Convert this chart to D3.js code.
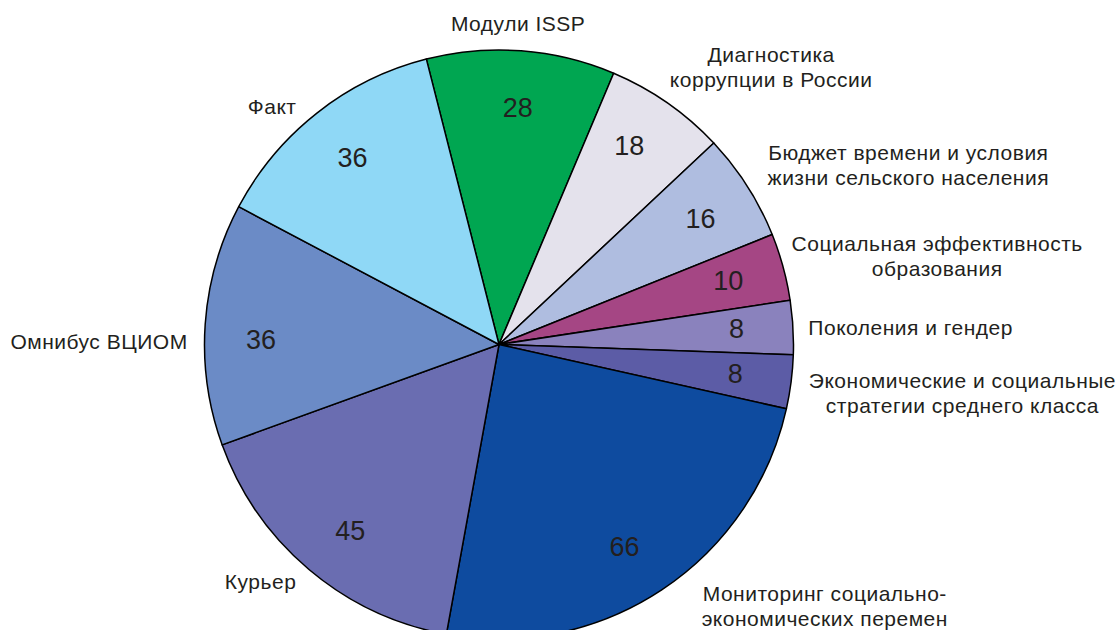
<!DOCTYPE html>
<html>
<head>
<meta charset="utf-8">
<script src="https://cdnjs.cloudflare.com/ajax/libs/d3/7.8.5/d3.min.js"></script>
<style>
  body { margin: 0; background: #fff; }
  text { font-family: "Liberation Sans", Arial, sans-serif; fill: #231f20; }
</style>
</head>
<body>
<div id="chart"></div>
<script>
// data, clockwise from the top
var names = [
  ["Модули ISSP"],
  ["Диагностика", "коррупции в России"],
  ["Бюджет времени и условия", "жизни сельского населения"],
  ["Социальная эффективность", "образования"],
  ["Поколения и гендер"],
  ["Экономические и социальные", "стратегии среднего класса"],
  ["Мониторинг социально-", "экономических перемен"],
  ["Курьер"],
  ["Омнибус ВЦИОМ"],
  ["Факт"]
];
var values = [28, 18, 16, 10, 8, 8, 66, 45, 36, 36];
var colors = ["#00a651", "#e4e2ec", "#afbde0", "#a54684", "#8a82bd",
  "#5c5ca6", "#0e4b9f", "#6a6db1", "#6b8bc6", "#8fd8f6"];

// where the outside names sit: angle (deg, clockwise from top) and radius
var labelAngle = [3.4, 44.4, 66.3, 78.6, 87.6, 96.0, 128.8, 225.2, 270.4, 316.4];
var labelRadius = [322, 389, 447, 447, 412, 466, 418, 336, 400, 329];
// small nudges (deg) of the numbers off the slice middle
var numberShift = [0.2, -1.7, 0.4, -0.4, -0.7, -0.4, 1.7, -1.5, -2.7, 0.2];

var svgWidth = 1118;
var svgHeight = 630;
var cx = 499, cy = 344.5;
var radius = 294.5;
var numberRadius = 238;
var lineHeight = 25;

var svg = d3.select("#chart")
  .append("svg")
  .attr("width", svgWidth)
  .attr("height", svgHeight);

var chartGroup = svg.append("g")
  .attr("transform", `translate(${cx}, ${cy})`);

var rad = Math.PI / 180;

var pie = d3.pie()
  .sort(null)
  .value(d => d)
  .startAngle(-14.28 * rad)
  .endAngle(-14.28 * rad + 2 * Math.PI);

var arcs = pie(values);

var arc = d3.arc()
  .innerRadius(0)
  .outerRadius(radius);

chartGroup.selectAll("path")
  .data(arcs)
  .enter()
  .append("path")
  .attr("d", arc)
  .attr("fill", (d, i) => colors[i])
  .attr("stroke", "#000")
  .attr("stroke-width", 1.5)
  .attr("stroke-linejoin", "round");

// values inside slices
chartGroup.selectAll(".num")
  .data(arcs)
  .enter()
  .append("text")
  .attr("class", "num")
  .attr("transform", function(d, i) {
    var a = (d.startAngle + d.endAngle) / 2 + numberShift[i] * rad;
    return `translate(${Math.sin(a) * numberRadius}, ${-Math.cos(a) * numberRadius})`;
  })
  .attr("text-anchor", "middle")
  .attr("dy", "0.36em")
  .style("font-size", "27px")
  .text(d => d.data);

// names outside
var labels = chartGroup.selectAll(".name")
  .data(names)
  .enter()
  .append("text")
  .attr("class", "name")
  .attr("text-anchor", "middle")
  .style("font-size", "21px")
  .style("letter-spacing", "0.5px")
  .attr("transform", function(d, i) {
    var a = labelAngle[i] * rad;
    var x = Math.sin(a) * labelRadius[i];
    var y = -Math.cos(a) * labelRadius[i];
    return `translate(${x}, ${y})`;
  });

labels.each(function(d) {
  var t = d3.select(this);
  var first = -(d.length - 1) * lineHeight / 2 + 7.5;
  d.forEach(function(line, j) {
    t.append("tspan")
      .attr("x", 0)
      .attr("y", first + j * lineHeight)
      .text(line);
  });
});
</script>
</body>
</html>
